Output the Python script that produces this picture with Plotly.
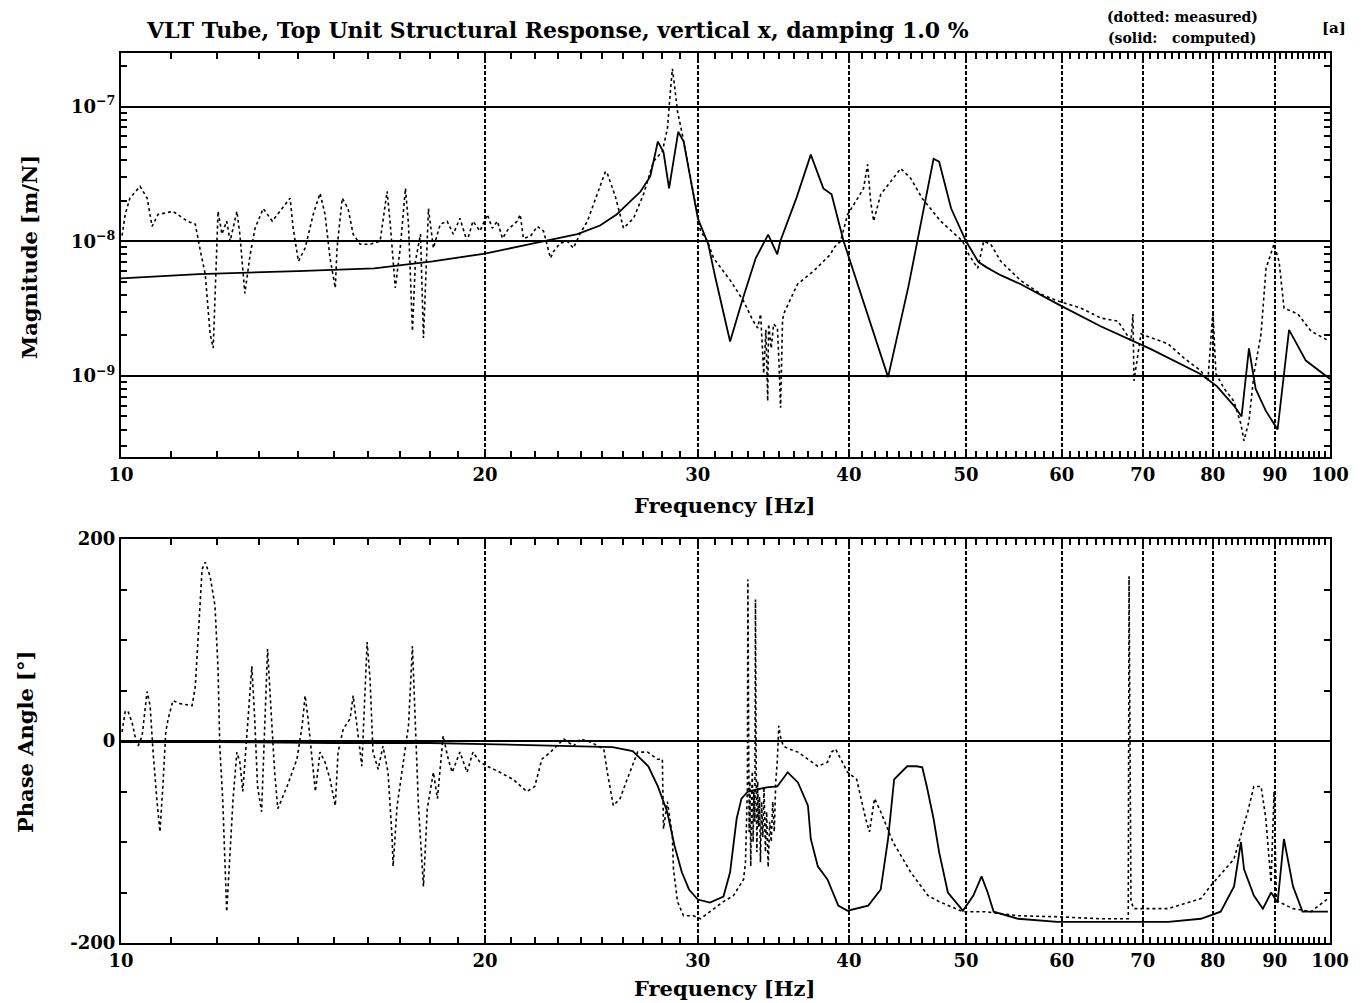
import plotly.graph_objects as go

# ---------------- data ----------------
# Magnitude, measured (dotted)
MEAS_MAG_F = [10.02, 10.08, 10.17, 10.37, 10.51, 10.61, 10.73, 11.04, 11.35, 11.52, 11.62, 11.74, 11.85, 11.92,
              11.98, 12.03, 12.12, 12.23, 12.31, 12.47, 12.54, 12.66, 12.79, 12.91, 13.11, 13.34, 13.80, 13.88,
              14.02, 14.20, 14.42, 14.61, 14.75, 14.89, 15.04, 15.09, 15.24, 15.41, 15.56, 15.77, 16.07, 16.38,
              16.60, 16.70, 16.86, 17.02, 17.19, 17.29, 17.42, 17.52, 17.69, 17.79, 17.96, 18.13, 18.37, 18.61,
              18.83, 19.07, 19.33, 19.55, 19.81, 20.09, 20.28, 20.48, 20.68, 20.91, 21.27, 21.39, 21.52, 21.81,
              22.10, 22.36, 22.66, 22.79, 23.09, 23.40, 23.67, 23.99, 24.31, 24.59, 24.92, 25.16, 25.25, 25.64,
              26.04, 26.54, 27.05, 27.57, 28.04, 28.31, 28.47, 28.58, 28.69, 28.86, 29.13, 29.41, 29.75, 30.15,
              30.56, 30.91, 31.92, 32.73, 33.30, 33.62, 33.81, 34.01, 34.15, 34.27, 34.33, 34.50, 34.66, 34.91,
              35.02, 35.12, 35.25, 35.32, 36.27, 37.39, 38.63, 38.85, 39.37, 39.90, 40.67, 41.13, 41.45, 41.69,
              41.93, 42.50, 43.32, 44.15, 45.00, 46.00, 47.64, 49.68, 50.25, 51.12, 51.71, 52.41, 53.42, 55.49,
              57.66, 59.55, 62.22, 64.64, 66.77, 68.45, 68.71, 68.84, 69.77, 73.45, 75.70, 78.20, 79.25, 80.01,
              80.47, 81.71, 83.27, 84.39, 84.88, 85.70, 86.52, 87.69, 88.53, 89.38, 89.88, 90.75, 91.62, 94.08,
              96.45, 99.80]
MEAS_MAG = [1.1e-8, 1.58e-8, 2.09e-8, 2.56e-8, 2.09e-8, 1.29e-8, 1.58e-8, 1.67e-8, 1.41e-8, 1.34e-8, 8.9e-9, 5.7e-9,
            2.05e-9, 1.61e-9, 5.7e-9, 1.67e-8, 1.13e-8, 1.41e-8, 1.0e-8, 1.67e-8, 1.13e-8, 4.1e-9, 8.0e-9, 1.25e-8,
            1.75e-8, 1.41e-8, 2.09e-8, 1.25e-8, 7.1e-9, 8.9e-9, 1.58e-8, 2.27e-8, 1.58e-8, 7.5e-9, 4.5e-9, 8.9e-9,
            2.09e-8, 1.75e-8, 1.13e-8, 9.5e-9, 9.5e-9, 1.0e-8, 2.35e-8, 1.34e-8, 4.5e-9, 8.9e-9, 2.47e-8, 1.34e-8,
            2.15e-9, 7.1e-9, 1.13e-8, 1.91e-9, 1.75e-8, 8.9e-9, 1.34e-8, 1.41e-8, 1.13e-8, 1.48e-8, 1.0e-8, 1.41e-8,
            1.19e-8, 1.58e-8, 1.25e-8, 1.41e-8, 1.05e-8, 1.23e-8, 1.41e-8, 1.58e-8, 1.05e-8, 1.09e-8, 1.29e-8,
            1.19e-8, 7.5e-9, 8.4e-9, 9.7e-9, 1.0e-8, 8.9e-9, 1.15e-8, 1.41e-8, 1.88e-8, 2.64e-8, 3.3e-8, 3.19e-8,
            2.15e-8, 1.25e-8, 1.48e-8, 2.23e-8, 3.92e-8, 4.64e-8, 6.87e-8, 1.29e-7, 1.91e-7, 1.46e-7, 9.2e-8,
            6.2e-8, 3.92e-8, 2.34e-8, 1.19e-8, 1.0e-8, 7.5e-9, 5.1e-9, 3.6e-9, 2.6e-9, 2.27e-9, 2.88e-9, 1.04e-9,
            2.2e-9, 6.5e-10, 2.43e-9, 1.6e-9, 2.43e-9, 2.27e-9, 1.2e-9, 5.8e-10, 2.55e-9, 2.88e-9, 4.8e-9, 6.0e-9,
            8.0e-9, 8.9e-9, 1.0e-8, 1.58e-8, 2.08e-8, 2.47e-8, 3.72e-8, 1.98e-8, 1.41e-8, 2.23e-8, 2.78e-8,
            3.47e-8, 2.93e-8, 2.08e-8, 1.41e-8, 1.0e-8, 8.0e-9, 6.3e-9, 1.0e-8, 9.5e-9, 7.1e-9, 5.1e-9, 4.05e-9,
            3.6e-9, 3.19e-9, 2.69e-9, 2.55e-9, 1.82e-9, 2.88e-9, 9.2e-10, 2.05e-9, 1.73e-9, 1.36e-9, 1.09e-9,
            9.2e-10, 3.03e-9, 1.04e-9, 8.1e-10, 6.5e-10, 4.4e-10, 3.3e-10, 4.6e-10, 1.04e-9, 2.05e-9, 6.3e-9,
            8.0e-9, 9.5e-9, 7.1e-9, 3.19e-9, 2.88e-9, 2.15e-9, 1.82e-9]

# Magnitude, computed (solid)
COMP_MAG_F = [10.0, 11.6, 14.0, 16.2, 18.1, 20.0, 21.4, 22.6, 23.85, 24.9, 25.7, 26.9, 27.4, 27.8, 28.1, 28.4,
              28.9, 29.2, 30.0, 30.6, 31.0, 31.9, 32.7, 33.5, 34.3, 34.9, 35.1, 36.2, 37.2, 38.1, 38.7, 39.6,
              41.3, 43.1, 44.8, 46.0, 47.0, 47.5, 48.6, 50.0, 51.2, 52.0, 53.4, 55.5, 59.6, 64.6, 71.1, 78.2,
              80.6, 83.3, 84.5, 85.7, 86.8, 88.5, 90.5, 92.5, 95.5, 100.0]
COMP_MAG = [5.3e-9, 5.7e-9, 6.0e-9, 6.3e-9, 7.1e-9, 8.1e-9, 9.2e-9, 1.02e-8, 1.13e-8, 1.31e-8, 1.58e-8, 2.34e-8,
            3.03e-8, 5.5e-8, 4.6e-8, 2.47e-8, 6.5e-8, 5.5e-8, 1.48e-8, 9.5e-9, 5.5e-9, 1.8e-9, 3.8e-9, 7.5e-9,
            1.12e-8, 8.0e-9, 1.0e-8, 2.1e-8, 4.4e-8, 2.47e-8, 2.23e-8, 1.0e-8, 3.2e-9, 9.8e-10, 4.6e-9, 1.5e-8,
            4.1e-8, 3.9e-8, 1.75e-8, 1.0e-8, 7.0e-9, 6.4e-9, 5.6e-9, 4.8e-9, 3.4e-9, 2.34e-9, 1.58e-9, 1.03e-9,
            8.4e-10, 6.0e-10, 5.0e-10, 1.6e-9, 8.0e-10, 5.5e-10, 4.0e-10, 2.2e-9, 1.3e-9, 9.5e-10]

# Phase, measured (dotted)
MEAS_PH_F = [10.02, 10.08, 10.13, 10.21, 10.27, 10.33, 10.41, 10.51, 10.57, 10.63, 10.71, 10.77, 10.83, 10.89,
             10.94, 11.04, 11.19, 11.45, 11.52, 11.58, 11.62, 11.67, 11.74, 11.85, 11.96, 12.03, 12.07, 12.14,
             12.23, 12.31, 12.38, 12.47, 12.54, 12.61, 12.73, 12.83, 12.90, 12.97, 13.07, 13.15, 13.22, 13.32,
             13.40, 13.48, 13.72, 13.98, 14.12, 14.20, 14.28, 14.39, 14.48, 14.61, 14.75, 14.89, 15.04, 15.12,
             15.27, 15.47, 15.56, 15.71, 15.82, 15.98, 16.07, 16.16, 16.32, 16.47, 16.63, 16.76, 16.79, 16.92,
             17.12, 17.29, 17.42, 17.52, 17.62, 17.79, 17.92, 18.13, 18.27, 18.47, 18.65, 18.79, 19.07, 19.33,
             19.55, 19.81, 20.09, 20.58, 21.10, 21.66, 21.99, 22.29, 22.66, 23.24, 23.67, 23.99, 24.45, 25.08,
             25.25, 25.54, 25.87, 26.22, 26.75, 27.26, 27.78, 28.04, 28.10, 28.31, 28.58, 28.64, 28.86, 29.19,
             29.75, 30.15, 30.91, 31.50, 32.11, 32.73, 32.85, 32.92, 32.97, 33.00, 33.03, 33.08, 33.13, 33.18,
             33.23, 33.28, 33.33, 33.38, 33.44, 33.48, 33.52, 33.57, 33.62, 33.68, 33.74, 33.80, 33.87, 33.95,
             34.03, 34.12, 34.20, 34.30, 34.40, 34.50, 34.60, 34.70, 34.80, 34.90, 35.00, 35.10, 35.30, 35.70,
             36.30, 37.00, 37.70, 38.40, 38.70, 39.00, 39.40, 39.90, 40.60, 41.30, 41.60, 42.00, 42.50, 43.50,
             45.00, 46.50, 47.50, 49.70, 51.80, 55.20, 59.50, 64.60, 68.10, 68.20, 68.45, 68.84, 73.45, 78.20,
             79.60, 83.27, 85.50, 86.50, 87.70, 88.50, 89.38, 89.90, 90.30, 90.60, 93.20, 96.45, 99.60]
MEAS_PH = [9, 29, 30, 19, 5, -5, 5, 49, 35, -11, -60, -90, -45, 9,
           22, 40, 37, 35, 54, 98, 138, 170, 177, 163, 134, 71, -5, -60,
           -169, -110, -57, -11, -21, -50, 22, 74, 22, -45, -70, 22, 91, 22,
           -31, -67, -45, -18, 15, 45, 22, -18, -50, -11, -21, -38, -64, -11,
           12, 22, 45, 5, -25, 98, 61, -11, -28, -5, -31, -97, -124, -64,
           -18, 15, 94, 22, -64, -144, -67, -31, -57, 5, -18, -31, -11, -31,
           -11, -21, -25, -31, -38, -50, -45, -18, -11, 2, -5, 2, -1, -8,
           -31, -64, -57, -38, -11, -11, -18, -18, -87, -60, -94, -127, -159, -173,
           -173, -176, -166, -159, -153, -137, -120, -60, -45, 160, -20, -90, -40, -124,
           -60, -30, -100, -50, -80, 140, -10, -110, -40, -85, -55, -120, -60, -95,
           -45, -110, -70, -125, -80, -100, -60, -90, -40, -20, 15, 5, -5, -8,
           -11, -18, -25, -21, -11, -8, -18, -31, -38, -77, -90, -57, -70, -100,
           -130, -153, -159, -169, -169, -173, -174, -176, -176, 163, -159, -166, -166, -156,
           -144, -117, -70, -45, -45, -77, -140, -50, -156, -159, -166, -169, -156]

# Phase, computed (solid)
COMP_PH_F = [10.0, 12.0, 15.0, 18.0, 20.0, 22.0, 24.0, 25.5, 26.5, 27.3, 27.8, 28.3, 28.7, 29.1, 29.5, 30.0,
             30.7, 31.5, 31.9, 32.3, 32.6, 33.0, 33.6, 34.2, 34.9, 35.6, 36.3, 37.0, 37.2, 37.7, 38.4, 39.2,
             39.9, 41.5, 42.5, 43.1, 43.6, 44.7, 45.5, 46.0, 46.4, 47.0, 47.5, 48.3, 49.7, 50.7, 51.5, 52.1,
             52.7, 55.2, 59.5, 64.6, 73.5, 78.2, 81.2, 83.3, 84.4, 84.9, 86.5, 88.0, 89.4, 90.5, 91.6, 93.2,
             94.9, 99.6]
COMP_PH = [-1, -1, -2, -2, -3, -4, -5, -6, -10, -25, -45, -70, -104, -130, -147, -157,
           -160, -154, -130, -77, -57, -50, -48, -46, -45, -31, -41, -64, -97, -124, -137, -163,
           -168, -163, -147, -97, -38, -25, -25, -26, -45, -77, -110, -150, -168, -153, -134, -150,
           -169, -176, -179, -179, -179, -176, -169, -144, -100, -127, -153, -166, -150, -160, -97, -144,
           -169, -169]

X_TICKS = [10, 20, 30, 40, 50, 60, 70, 80, 90, 100]
X_MINOR = [v for d in range(10, 100, 10) for v in range(d + 1, d + 10)]
MAG_TICKS = [1e-9, 1e-8, 1e-7]
MAG_TICK_TEXT = ["10<sup>−9</sup>", "10<sup>−8</sup>", "10<sup>−7</sup>"]
MAG_MINOR = [m * 10.0 ** e for e in (-10, -9, -8, -7) for m in range(2, 10) if 2.5e-10 <= m * 10.0 ** e <= 2.5e-7]
PH_TICKS = [-200, 0, 200]

TITLE = "VLT Tube, Top Unit Structural Response, vertical x, damping 1.0 %"

# ---------------- figure ----------------
FONT = "DejaVu Serif"
OFF = 8                      # page body margin of the html page
W, H = 1358, 995
ML, MR, MT, MB = 113, 36, 45, 60
PLOT_W = W - ML - MR
PLOT_H = H - MT - MB

fig = go.Figure()

meas_line = dict(color="black", width=1.6, dash="dot")
comp_line = dict(color="black", width=1.8)

fig.add_trace(go.Scatter(x=MEAS_MAG_F, y=MEAS_MAG, mode="lines", line=meas_line,
                         xaxis="x", yaxis="y", name="measured"))
fig.add_trace(go.Scatter(x=COMP_MAG_F, y=COMP_MAG, mode="lines", line=comp_line,
                         xaxis="x", yaxis="y", name="computed"))
fig.add_trace(go.Scatter(x=MEAS_PH_F, y=MEAS_PH, mode="lines", line=meas_line,
                         xaxis="x2", yaxis="y2", name="measured"))
fig.add_trace(go.Scatter(x=COMP_PH_F, y=COMP_PH, mode="lines", line=comp_line,
                         xaxis="x2", yaxis="y2", name="computed"))

tickfont = dict(family=FONT, size=18, color="black", weight="bold")


def page_y(py):
    """page pixel row -> paper fraction"""
    return (H - MB - (py - OFF)) / PLOT_H


def page_x(px):
    """page pixel column -> paper fraction"""
    return (px - OFF - ML) / PLOT_W


xcommon = dict(type="log", range=[1, 2], tickvals=X_TICKS, ticktext=[str(v) for v in X_TICKS],
               showline=True, linecolor="black", linewidth=2, mirror="allticks",
               ticks="inside", ticklen=8, tickcolor="black", tickwidth=1.5,
               showgrid=True, gridcolor="black", gridwidth=1.5, griddash="4px,2px",
               minor=dict(tickvals=X_MINOR, ticks="inside", ticklen=6, tickcolor="black",
                          tickwidth=1.5, showgrid=False),
               tickfont=tickfont, zeroline=False, fixedrange=True)

top_lo = page_y(457)
bot_hi = page_y(539)

fig.update_layout(
    width=W, height=H,
    margin=dict(l=ML, r=MR, t=MT, b=MB, pad=0),
    paper_bgcolor="white", plot_bgcolor="white",
    showlegend=False,
    font=dict(family=FONT, color="black"),
    xaxis=dict(**xcommon, anchor="y", domain=[0, 1]),
    xaxis2=dict(**xcommon, anchor="y2", domain=[0, 1]),
    yaxis=dict(type="log", range=[-9.602, -6.602], domain=[top_lo, 1], anchor="x",
               tickvals=MAG_TICKS, ticktext=MAG_TICK_TEXT,
               showline=True, linecolor="black", linewidth=2, mirror="allticks",
               ticks="inside", ticklen=8, tickcolor="black", tickwidth=1.5,
               showgrid=True, gridcolor="black", gridwidth=1.5,
               minor=dict(tickvals=MAG_MINOR, ticks="inside", ticklen=6, tickcolor="black",
                          tickwidth=1.5, showgrid=False),
               tickfont=tickfont, zeroline=False, fixedrange=True),
    yaxis2=dict(range=[-200, 200], domain=[0, bot_hi], anchor="x2",
                tickvals=PH_TICKS, ticktext=[str(v) for v in PH_TICKS],
                showline=True, linecolor="black", linewidth=2, mirror="allticks",
                ticks="inside", ticklen=8, tickcolor="black", tickwidth=1.5,
                showgrid=True, gridcolor="black", gridwidth=1.5,
                minor=dict(dtick=50, ticks="inside", ticklen=6, tickcolor="black",
                           tickwidth=1.5, showgrid=False),
                tickfont=tickfont, zeroline=False, fixedrange=True),
)

afont = dict(family=FONT, size=21, color="black", weight="bold")
annos = [
    dict(text=TITLE, x=page_x(557), y=page_y(30), font=dict(family=FONT, size=22, color="black", weight="bold")),
    dict(text="(dotted: measured)", x=page_x(1182), y=page_y(17),
         font=dict(family=FONT, size=14, color="black", weight="bold")),
    dict(text="(solid:   computed)", x=page_x(1182), y=page_y(38),
         font=dict(family=FONT, size=14, color="black", weight="bold")),
    dict(text="[a]", x=page_x(1334), y=page_y(28), font=dict(family=FONT, size=15, color="black", weight="bold")),
    dict(text="Magnitude [m/N]", x=page_x(30), y=page_y(257), textangle=-90, font=afont),
    dict(text="Phase Angle [°]", x=page_x(25), y=page_y(742), textangle=-90, font=afont),
    dict(text="Frequency [Hz]", x=page_x(724), y=page_y(505), font=afont),
    dict(text="Frequency [Hz]", x=page_x(724), y=page_y(988), font=afont),
]
for a in annos:
    fig.add_annotation(xref="paper", yref="paper", showarrow=False, xanchor="center", yanchor="middle", **a)

fig.write_html("out.html")
